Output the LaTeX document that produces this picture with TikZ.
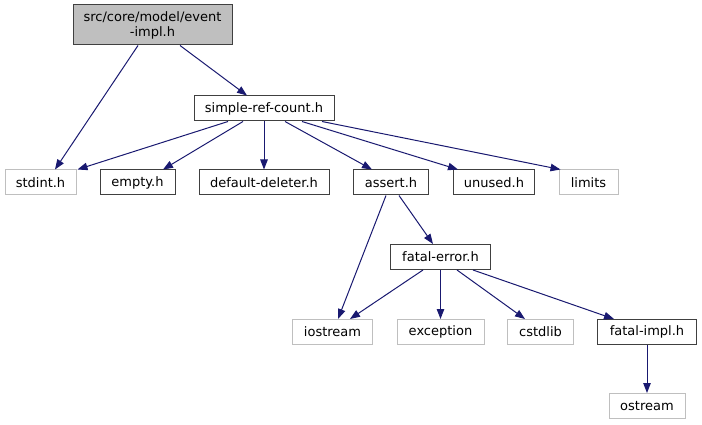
\documentclass[tikz,border=0pt]{standalone}
\usepackage{fontspec}
\setmainfont{DejaVu Sans}
\usetikzlibrary{arrows.meta}
\definecolor{edgeblue}{HTML}{191970}
\definecolor{graybox}{HTML}{BFBFBF}
\definecolor{litebox}{HTML}{BFBFBF}
\tikzset{
  box/.style={draw=black!75, line width=1pt, inner sep=0pt, minimum height=25pt, align=center, font=\fontsize{13}{15}\selectfont},
  extbox/.style={box, draw=litebox},
  curbox/.style={box, fill=graybox},
  dep/.style={draw=edgeblue, line width=1pt, -{Triangle[length=10pt,width=7.5pt]}, color=edgeblue, shorten >=0pt}
}
\begin{document}
\begin{tikzpicture}[x=1pt,y=-1pt]
\useasboundingbox (0,0) rectangle (702,425);
\node[curbox, minimum width=159pt, minimum height=40pt] (ev) at (152.5,25) {src/core/model/event\\-impl.h};
\node[box, minimum width=140pt] (src) at (264,108.5) {simple-ref-count.h};
\node[extbox, minimum width=71pt] (stdint) at (40.5,182.5) {stdint.h};
\node[box, minimum width=75pt] (empty) at (137.5,182.5) {empty.h};
\node[box, minimum width=130pt] (def) at (264,182.5) {default-deleter.h};
\node[box, minimum width=75pt] (assert) at (391,182.5) {assert.h};
\node[box, minimum width=81pt] (unused) at (494,182.5) {unused.h};
\node[extbox, minimum width=59pt] (limits) at (588.5,182.5) {limits};
\node[box, minimum width=100pt] (fatal) at (440.5,257) {fatal-error.h};
\node[extbox, minimum width=80pt] (iostream) at (332.5,332) {iostream};
\node[extbox, minimum width=87pt] (exception) at (440.5,332) {exception};
\node[extbox, minimum width=66pt] (cstdlib) at (540.5,332) {cstdlib};
\node[box, minimum width=99pt] (fimpl) at (647,332) {fatal-impl.h};
\node[extbox, minimum width=76pt] (ostream) at (647,406) {ostream};

\draw[dep] ([xshift=-14.5pt]ev.south) -- ([xshift=14.5pt]stdint.north);
\draw[dep] ([xshift=27.5pt]ev.south) -- ([xshift=-17pt]src.north);
\draw[dep] ([xshift=-36pt]src.south) -- ([xshift=1pt]stdint.north east);
\draw[dep] ([xshift=-21pt]src.south) -- ([xshift=25.5pt]empty.north);
\draw[dep] (src.south) -- (def.north);
\draw[dep] ([xshift=21pt]src.south) -- ([xshift=-19pt]assert.north);
\draw[dep] ([xshift=38pt]src.south) -- ([xshift=-36pt]unused.north);
\draw[dep] ([xshift=58pt]src.south) -- ([xshift=-28pt]limits.north);
\draw[dep] ([xshift=-5pt]assert.south) -- ([xshift=5.5pt]iostream.north);
\draw[dep] ([xshift=8pt]assert.south) -- ([xshift=-7.5pt]fatal.north);
\draw[dep] ([xshift=-17.5pt]fatal.south) -- ([xshift=17.5pt]iostream.north);
\draw[dep] (fatal.south) -- (exception.north);
\draw[dep] ([xshift=16.5pt]fatal.south) -- ([xshift=-15.5pt]cstdlib.north);
\draw[dep] ([xshift=32.5pt]fatal.south) -- ([xshift=-33pt]fimpl.north);
\draw[dep] (fimpl.south) -- (ostream.north);
\end{tikzpicture}
\end{document}
